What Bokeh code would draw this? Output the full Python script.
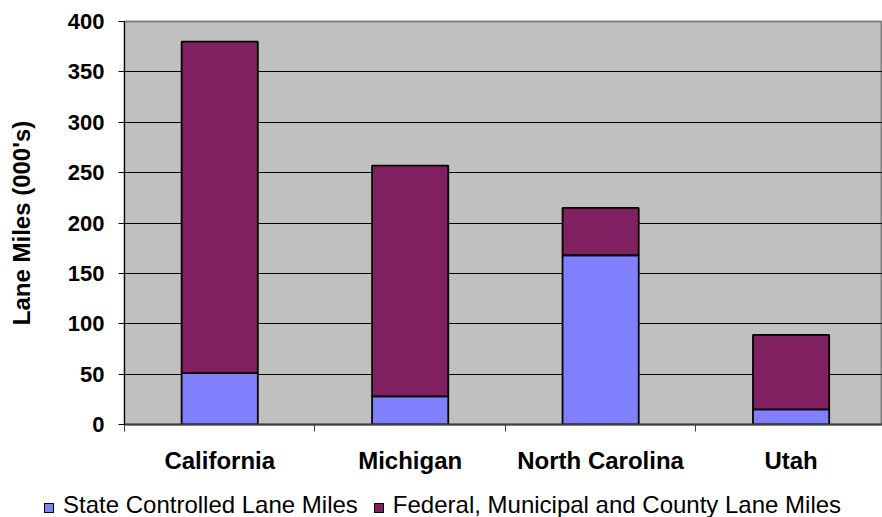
from bokeh.plotting import figure
from bokeh.layouts import column
from bokeh.models import Range1d, FixedTicker, ColumnDataSource, Div
from bokeh.embed import file_html
from bokeh.resources import INLINE

states = ["California", "Michigan", "North Carolina", "Utah"]
state_controlled = [51, 28, 168, 15]
federal_municipal_county = [329, 229, 47, 74]
y_ticks = [0, 50, 100, 150, 200, 250, 300, 350, 400]
series_names = ["State Controlled Lane Miles", "Federal, Municipal and County Lane Miles"]
colors = ["#8080FF", "#802060"]

FONT = "Liberation Sans"

xs = [i + 0.5 for i in range(len(states))]
source = ColumnDataSource(dict(x=xs, state=state_controlled, fed=federal_municipal_county))

p = figure(width=882, height=480, output_backend="svg", toolbar_location=None,
           x_range=Range1d(0, 3.98), y_range=Range1d(0, 400),
           min_border_left=124, min_border_right=0, min_border_top=21, min_border_bottom=56)

p.vbar_stack(["state", "fed"], x="x", width=0.4, source=source,
             fill_color=colors, line_color="black", line_width=1.8)

p.background_fill_color = "#C0C0C0"
p.border_fill_color = "white"
p.outline_line_color = "#808080"
p.outline_line_width = 2

# y axis
p.yaxis.ticker = FixedTicker(ticks=y_ticks)
p.yaxis.axis_line_color = "black"
p.yaxis.major_tick_out = 6
p.yaxis.major_tick_in = 0
p.yaxis.minor_tick_line_color = None
p.yaxis.major_label_text_font = FONT
p.yaxis.major_label_text_font_style = "bold"
p.yaxis.major_label_text_font_size = "22px"
p.yaxis.major_label_text_color = "black"
p.yaxis.major_label_standoff = 14
p.yaxis.axis_label = "Lane Miles (000's)"
p.yaxis.axis_label_text_font = FONT
p.yaxis.axis_label_text_font_style = "bold"
p.yaxis.axis_label_text_font_size = "24px"
p.yaxis.axis_label_text_color = "black"
p.yaxis.axis_label_standoff = 30

# x axis: labels at category centres, ticks at category boundaries
p.xaxis.ticker = FixedTicker(ticks=xs, minor_ticks=[i for i in range(len(states) + 1)])
p.xaxis.major_label_overrides = {x: s for x, s in zip(xs, states)}
p.xaxis.axis_line_color = "#404040"
p.xaxis.axis_line_width = 2
p.xaxis.major_tick_out = 0
p.xaxis.major_tick_in = 0
p.xaxis.minor_tick_out = 7
p.xaxis.minor_tick_in = 0
p.xaxis.minor_tick_line_color = "#404040"
p.xaxis.major_label_text_font = FONT
p.xaxis.major_label_text_font_style = "bold"
p.xaxis.major_label_text_font_size = "24px"
p.xaxis.major_label_text_color = "black"
p.xaxis.major_label_standoff = 15

p.xgrid.grid_line_color = None
p.ygrid.ticker = FixedTicker(ticks=y_ticks)
p.ygrid.grid_line_color = "black"
p.ygrid.grid_line_width = 1

# legend strip below the chart
items_html = []
for i, (name, col) in enumerate(zip(series_names, colors)):
    ml = 44 if i == 0 else 16
    items_html.append(
        f'<span style="display:inline-block;width:10px;height:10px;background:{col};'
        f'border:1.5px solid black;margin-left:{ml}px;margin-right:9px;vertical-align:baseline;"></span>'
        f'<span>{name}</span>'
    )
legend_div = Div(
    text='<div style="font-family:\'Liberation Sans\';font-size:24px;color:black;'
         'white-space:nowrap;padding-top:11px;line-height:normal;">' + "".join(items_html) + "</div>",
    width=882, height=37, margin=(0, 0, 0, 0),
)

layout = column(p, legend_div, spacing=0)
open("out.html", "w").write(file_html(layout, INLINE))
